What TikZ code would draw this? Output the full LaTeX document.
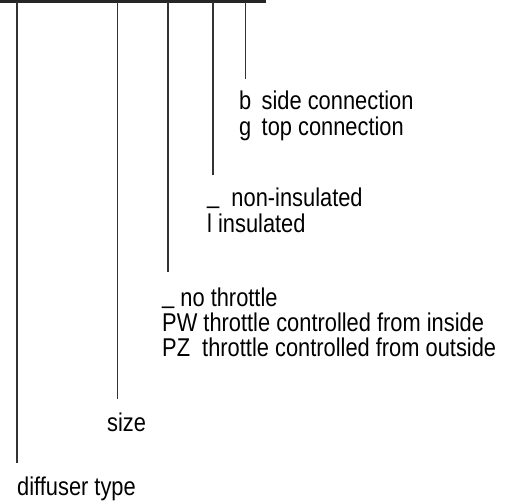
\documentclass[tikz,border=0pt]{standalone}
\usepackage{fontspec}
\setmainfont{Liberation Sans}[FakeStretch=0.85]
\newcommand{\lowbar}{\raisebox{3pt}{\_}}
\begin{document}
\begin{tikzpicture}[x=1pt,y=-1pt,
  lbl/.style={anchor=base west,inner sep=0pt,font=\fontsize{25.7}{25}\selectfont,text=black},
  lead/.style={draw=black!80,line width=1.4pt},
  frame/.style={draw=black!85,line width=3pt}]
\useasboundingbox (0,0) rectangle (505,502);
\clip (0,0) rectangle (505,502);
% code box (only its lower edge is visible)
\draw[frame] (-20,-60) rectangle (264.5,1.5);
\coordinate (b1) at (17,2.5);
\coordinate (b2) at (117.5,2.5);
\coordinate (b3) at (168,2.5);
\coordinate (b4) at (213,2.5);
\coordinate (b5) at (245.5,2.5);
\coordinate (e1) at (17,463);
\coordinate (e2) at (117.5,399);
\coordinate (e3) at (168,272);
\coordinate (e4) at (213,175);
\coordinate (e5) at (245.5,79);
\draw[lead] (b1) -- (e1);
\draw[lead] (b2) -- (e2);
\draw[lead] (b3) -- (e3);
\draw[lead] (b4) -- (e4);
\draw[lead] (b5) -- (e5);
\node[lbl] (t1) at (239,110) {b\ \,side connection};
\node[lbl] (t2) at (239,136) {g\ \,top connection};
\node[lbl] (t3) at (207,207) {\lowbar\ \ non-insulated};
\node[lbl] (t4) at (207,233) {l insulated};
\node[lbl] (t5) at (162,306) {\lowbar\ no throttle};
\node[lbl] (t6) at (162,331) {PW throttle controlled from inside};
\node[lbl] (t7) at (162,356) {PZ\ \ throttle controlled from outside};
\node[lbl] (t8) at (107,431) {size};
\node[lbl] (t9) at (17,495) {diffuser type};
\end{tikzpicture}
\end{document}
